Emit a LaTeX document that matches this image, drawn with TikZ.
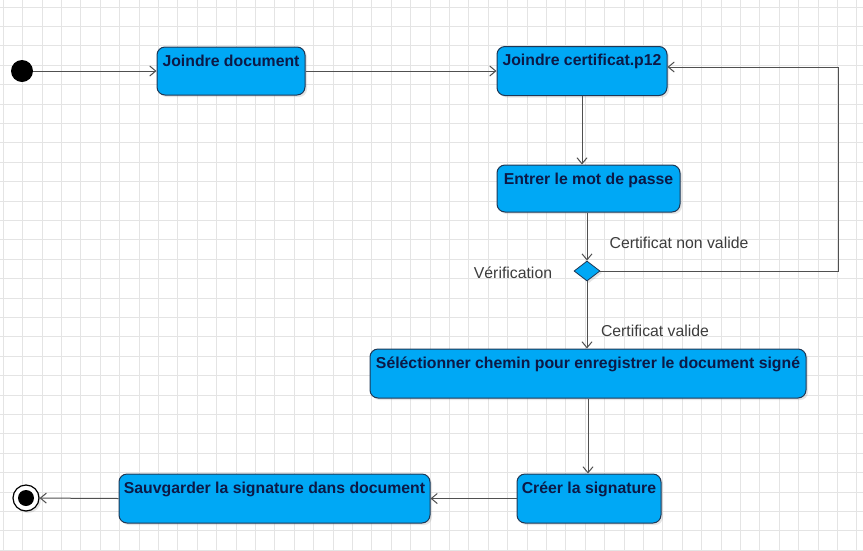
\documentclass[tikz,border=0pt]{standalone}
\usepackage{fontspec}
\setmainfont{Liberation Sans}
\usetikzlibrary{arrows.meta,shapes.geometric,shadows}
\definecolor{actfill}{RGB}{0,168,245}
\definecolor{actedge}{RGB}{30,55,85}
\definecolor{acttext}{RGB}{12,25,70}
\definecolor{wire}{RGB}{80,80,80}
\definecolor{gridline}{RGB}{228,228,228}
\definecolor{guard}{RGB}{60,60,60}
\begin{document}
\begin{tikzpicture}[x=1pt,y=-1pt,
  act/.style={draw=actedge, line width=1pt, fill=actfill, rounded corners=8pt,
    inner sep=0pt,
    drop shadow={shadow xshift=2pt,shadow yshift=-2pt,opacity=0.2}},
  acttxt/.style={anchor=north, yshift=-8pt, inner sep=0pt, text=acttext,
    font=\fontsize{15.8}{18}\selectfont\bfseries},
  flow/.style={draw=wire, line width=1pt, -{Straight Barb[length=6pt,width=10pt]}},
  guardlbl/.style={text=guard, font=\fontsize{15.8}{18}\selectfont, inner sep=0pt},
  choice/.style={diamond, draw=actedge, line width=0.8pt, fill=actfill,
    minimum width=26pt, minimum height=20pt, inner sep=0pt,
    drop shadow={shadow xshift=2pt,shadow yshift=-2pt,opacity=0.2}}
]
% canvas and background grid
\fill[white] (0,0) rectangle (863,550);
\useasboundingbox (0,0) rectangle (863,550);
\foreach \i in {0,...,44} \draw[gridline, line width=0.6pt] (3+19.4*\i,0) -- (3+19.4*\i,550);
\foreach \j in {0,...,28} \draw[gridline, line width=0.6pt] (0,6.8+19.4*\j) -- (863,6.8+19.4*\j);

% initial and final states
\node[circle, fill=black, minimum size=22pt, inner sep=0pt] (start) at (22,71) {};
\node[circle, draw=black, line width=1.2pt, fill=white, minimum size=26pt, inner sep=0pt,
  drop shadow={shadow xshift=2pt,shadow yshift=-2pt,opacity=0.2}] (end) at (26,498) {};
\fill[black] (end) circle (8pt);

% activities
\node[act, minimum width=148pt, minimum height=48pt,
  label={[acttxt]north:Joindre document}] (jd) at (231,71) {};
\node[act, minimum width=170pt, minimum height=49pt,
  label={[acttxt]north:Joindre certificat.p12}] (jc) at (582,71) {};
\node[act, minimum width=183pt, minimum height=47pt,
  label={[acttxt]north:Entrer le mot de passe}] (en) at (588.5,188.5) {};
\node[choice] (dia) at (587,271) {};
\node[act, minimum width=436pt, minimum height=49pt,
  label={[acttxt]north:Séléctionner chemin pour enregistrer le document signé}] (sel) at (588,373.5) {};
\node[act, minimum width=144pt, minimum height=49pt,
  label={[acttxt]north:Créer la signature}] (cr) at (589,498.5) {};
\node[act, minimum width=311pt, minimum height=49pt,
  label={[acttxt]north:Sauvgarder la signature dans document}] (sa) at (274.5,498.5) {};

% transitions
\coordinate (loop) at (838,67);
\draw[flow] (start) -- (jd);
\draw[flow] (jd) -- (jc);
\draw[flow] (jc.south) -- (jc.south |- en.north);
\draw[flow] (dia.north |- en.south) -- (dia.north);
\draw[flow] (dia.east) -| (loop) -- (loop -| jc.east);
\draw[flow] (dia.south) -- (dia.south |- sel.north);
\draw[flow] (sel.south) -- (sel.south |- cr.north);
\draw[flow] (cr.west) -- (sa.east);
\draw[flow] (sa.west) -- (end);

% guards and decision label
\node[guardlbl] (g1) at (679,243) {Certificat non valide};
\node[guardlbl] (g2) at (513,273) {Vérification};
\node[guardlbl] (g3) at (655,331) {Certificat valide};
\end{tikzpicture}
\end{document}
